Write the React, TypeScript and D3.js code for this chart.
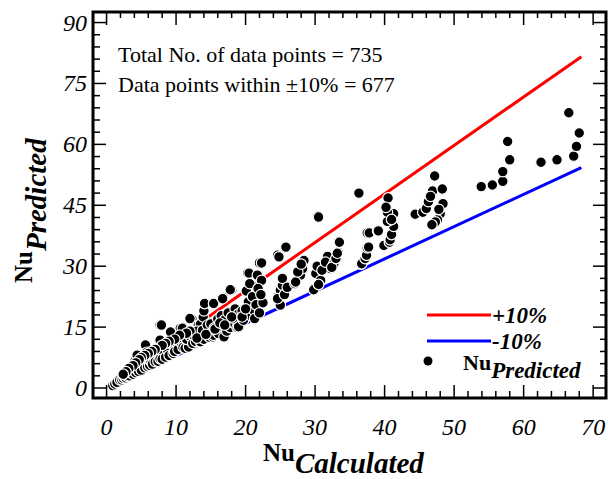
import React from "react";
import * as d3 from "d3";

// ---- data ----
const nuCalculated: number[] = [
  0.9, 1.2, 1.5, 1.9, 2.2, 2.4, 2.6, 2.8, 3.1, 3.0, 3.3, 3.5, 3.4, 3.8, 4.0, 4.2, 4.1, 4.4, 4.6, 4.1,
  4.4, 4.8, 5.0, 5.3, 5.6, 5.8, 5.5, 5.9, 6.2, 6.0, 6.4, 6.6, 5.6, 5.8, 6.5, 7.2, 7.0, 7.4, 7.7, 7.7,
  7.2, 7.9, 8.2, 8.0, 8.5, 8.8, 9.0, 9.4, 9.6, 9.4, 9.8, 10.1, 10.3, 10.6, 10.8, 11.0, 11.3, 11.8, 11.5, 12.0,
  12.3, 12.0, 7.7, 7.9, 9.2, 11.0, 10.9, 12.4, 12.8, 13.2, 13.5, 13.5, 13.2, 13.9, 14.0, 14.1, 14.0, 14.5, 14.8, 15.3,
  15.4, 15.4, 15.0, 15.8, 16.1, 16.6, 16.9, 16.9, 16.8, 16.7, 17.3, 17.8, 18.0, 17.8, 17.5, 18.3, 18.8, 19.0, 19.3, 19.7,
  20.1, 20.3, 20.5, 20.4, 20.6, 20.7, 21.1, 21.4, 21.3, 21.7, 21.0, 21.5, 22.0, 22.3, 22.3, 21.8, 22.0, 22.5, 22.2,
  12.5, 13.0, 13.8, 14.5, 15.0, 15.5, 16.0, 16.5, 17.0, 17.5, 18.2, 18.5, 19.0, 19.5, 12.0, 11.5, 10.5, 9.8, 9.0, 8.5,
  8.0, 7.0, 6.5, 6.0, 5.5, 5.0, 4.7, 4.2, 3.8, 3.2, 2.8, 2.4, 13.0, 14.3, 15.6, 16.3, 17.0, 18.0, 19.5, 20.0,
  24.6, 25.0, 25.3, 25.3, 24.6, 24.8, 25.8, 25.0, 24.6, 25.6, 26.0,
  27.1, 27.9, 28.2, 28.4, 28.4, 27.2, 27.5, 28.0,
  29.8, 29.8, 30.1, 30.3, 30.8, 31.8, 32.2, 33.0, 33.3, 33.4, 30.4, 30.5, 30.5, 31.0, 31.5, 32.7, 32.4, 33.0, 33.2, 33.5,
  36.3, 36.6, 36.7, 37.2, 37.4, 37.4, 37.5, 37.7, 37.5, 37.8, 39.0, 39.1, 39.9, 40.7, 40.8, 41.0, 41.3, 40.4, 41.3, 40.4,
  40.5, 40.2, 41.0,
  44.4, 45.5, 46.0, 46.3, 46.9, 47.2, 48.3, 48.4, 48.0, 47.6, 47.3, 46.8, 46.6, 47.8,
  53.9, 55.5, 57.0, 57.0, 58.0, 57.7,
  62.5, 64.8, 66.5, 67.2, 67.6, 68.0,
];
const nuPredicted: number[] = [
  0.6, 1.0, 1.4, 2.0, 2.0, 2.4, 2.8, 2.5, 3.6, 2.9, 3.0, 3.8, 4.4, 3.4, 4.3, 3.8, 5.0, 4.6, 4.1, 6.7,
  8.1, 5.5, 4.4, 6.1, 6.7, 6.1, 5.0, 5.3, 5.6, 7.2, 6.6, 5.9, 10.6, 8.8, 8.4, 7.9, 6.5, 6.6, 7.2, 11.8,
  9.6, 10.3, 8.4, 7.1, 7.6, 9.3, 8.0, 10.8, 8.5, 11.0, 9.0, 12.6, 9.5, 14.7, 11.0, 10.0, 9.8, 10.1, 12.0, 12.8,
  16.9, 17.1, 15.5, 15.5, 13.8, 14.9, 14.7, 11.0, 11.5, 15.5, 11.4, 15.7, 13.0, 17.5, 19.0, 20.8, 12.0, 14.0, 12.5, 12.6,
  13.0, 20.8, 16.0, 14.0, 13.4, 15.1, 16.7, 12.6, 22.3, 22.0, 14.0, 14.9, 24.1, 24.2, 17.0, 16.0, 14.9, 15.1, 18.5, 16.7,
  23.9, 28.3, 28.3, 21.2, 25.7, 17.9, 19.3, 17.1, 17.1, 27.8, 22.5, 20.5, 30.8, 30.8, 26.5, 24.5, 18.5, 21.0, 23.0,
  13.0, 14.0, 14.2, 15.5, 15.8, 14.8, 17.0, 17.8, 16.8, 18.5, 17.2, 19.5, 18.3, 19.0, 14.0, 13.5, 13.0, 12.0, 11.5, 11.0,
  10.5, 9.5, 9.0, 8.5, 8.0, 7.5, 7.0, 6.2, 5.5, 4.8, 4.0, 3.4, 12.3, 13.2, 14.5, 16.0, 15.5, 17.5, 17.5, 19.5,
  22.4, 24.1, 25.3, 27.0, 32.7, 32.3, 34.7, 20.4, 22.0, 23.0, 24.8,
  25.7, 27.8, 29.4, 31.6, 31.4, 26.1, 28.6, 30.5,
  24.5, 24.2, 28.2, 30.0, 26.5, 32.4, 29.4, 31.6, 33.5, 36.1, 42.3, 42.1, 25.5, 29.0, 31.0, 30.6, 29.7, 31.9, 33.2, 35.9,
  48.0, 30.5, 30.6, 31.9, 33.1, 32.7, 34.5, 34.7, 38.2, 38.2, 38.7, 38.7, 35.1, 35.9, 36.5, 37.8, 39.8, 41.0, 42.9, 43.3,
  46.8, 44.5, 41.5,
  42.8, 43.3, 44.2, 45.9, 48.5, 52.2, 49.0, 45.4, 42.9, 41.4, 40.9, 40.2, 47.2, 44.0,
  49.6, 50.0, 50.9, 53.3, 56.2, 60.7,
  55.6, 56.2, 67.8, 57.1, 59.5, 62.8,
];

const plusLine: [number, number][] = [[1, 1.2], [68.3, 81.6]];
const minusLine: [number, number][] = [[1, 0.8], [68.3, 54.3]];

const xTickValues = [0, 10, 20, 30, 40, 50, 60, 70];
const yTickValues = [0, 15, 30, 45, 60, 75, 90];
const xMinorStep = 2;
const yMinorStep = 3;

const annotations = ["Total No. of data points = 735", "Data points within \u00b110% = 677"];
const legendLabels = ["+10%", "-10%"];

const W = 608;
const H = 479;
const left = 93, right = 606, top = 12, bottom = 398;
const serif = "'Liberation Serif', 'Times New Roman', serif";

export default function App() {
  const x = d3.scaleLinear().domain([-1.95, 71.85]).range([left, right]);
  const y = d3.scaleLinear().domain([-2.46, 92.6]).range([bottom, top]);
  const line = d3.line<[number, number]>().x((d) => x(d[0])).y((d) => y(d[1]));

  const xMinor = d3.range(0, 72, xMinorStep).filter((v) => v % 10 !== 0);
  const yMinor = d3.range(0, 92, yMinorStep).filter((v) => v % 15 !== 0);

  const points = nuCalculated.map((v, i) => [v, nuPredicted[i]] as [number, number]);

  return (
    <div style={{ position: "absolute", left: 0, top: 0 }}>
      <svg width={W} height={H} style={{ display: "block", background: "#fff" }}>
        <path d={line(plusLine) || ""} stroke="#ff0000" strokeWidth={3} fill="none" />
        <path d={line(minusLine) || ""} stroke="#0000ff" strokeWidth={3} fill="none" />

        {points.map((p, i) => (
          <circle key={i} cx={x(p[0])} cy={y(p[1])} r={5.3} fill="#000" stroke="#fff" strokeWidth={1.2} />
        ))}

        <g stroke="#000" strokeWidth={1.5}>
          {xTickValues.map((v) => (
            <g key={"xt" + v}>
              <line x1={x(v)} x2={x(v)} y1={bottom} y2={bottom - 13} />
              <line x1={x(v)} x2={x(v)} y1={top} y2={top + 13} />
            </g>
          ))}
          {xMinor.map((v) => (
            <g key={"xm" + v}>
              <line x1={x(v)} x2={x(v)} y1={bottom} y2={bottom - 7} />
              <line x1={x(v)} x2={x(v)} y1={top} y2={top + 6} />
            </g>
          ))}
          {yTickValues.map((v) => (
            <g key={"yt" + v}>
              <line x1={left} x2={left + 13} y1={y(v)} y2={y(v)} />
              <line x1={right} x2={right - 13} y1={y(v)} y2={y(v)} />
            </g>
          ))}
          {yMinor.map((v) => (
            <g key={"ym" + v}>
              <line x1={left} x2={left + 7} y1={y(v)} y2={y(v)} />
              <line x1={right} x2={right - 6} y1={y(v)} y2={y(v)} />
            </g>
          ))}
        </g>

        <rect x={left} y={top} width={right - left} height={bottom - top} fill="none" stroke="#000" strokeWidth={3} />

        <g fontFamily={serif} fontStyle="italic" fontSize={24} fill="#000">
          {xTickValues.map((v) => (
            <text key={"xl" + v} x={x(v)} y={435} textAnchor="middle">{v}</text>
          ))}
          {yTickValues.map((v) => (
            <text key={"yl" + v} x={87} y={y(v) + 8} textAnchor="end">{v}</text>
          ))}
        </g>

        <g fontFamily={serif} fontSize={22} fill="#000">
          {annotations.map((t, i) => (
            <text key={t} x={118} y={62 + i * 30}>{t}</text>
          ))}
        </g>

        <g fontFamily={serif} fill="#000">
          <line x1={427} x2={491} y1={315} y2={315} stroke="#ff0000" strokeWidth={3} />
          <text x={492} y={323} fontSize={23} fontWeight="bold" fontStyle="italic">{legendLabels[0]}</text>
          <line x1={427} x2={491} y1={341} y2={341} stroke="#0000ff" strokeWidth={3} />
          <text x={492} y={349} fontSize={23} fontWeight="bold" fontStyle="italic">{legendLabels[1]}</text>
          <circle cx={428} cy={361} r={4.5} fill="#000" />
          <text x={463} y={370} fontWeight="bold" fontSize={22}>
            Nu
            <tspan dy={8} fontStyle="italic" fontSize={23}>Predicted</tspan>
          </text>
        </g>

        <text x={263} y={461} fontFamily={serif} fontWeight="bold" fontSize={25} fill="#000">
          Nu
          <tspan dy={12} fontStyle="italic" fontSize={29}>Calculated</tspan>
        </text>
        <text transform="translate(32,283) rotate(-90)" fontFamily={serif} fontWeight="bold" fontSize={25} fill="#000">
          Nu
          <tspan dy={14} fontStyle="italic" fontSize={29}>Predicted</tspan>
        </text>
      </svg>
    </div>
  );
}
